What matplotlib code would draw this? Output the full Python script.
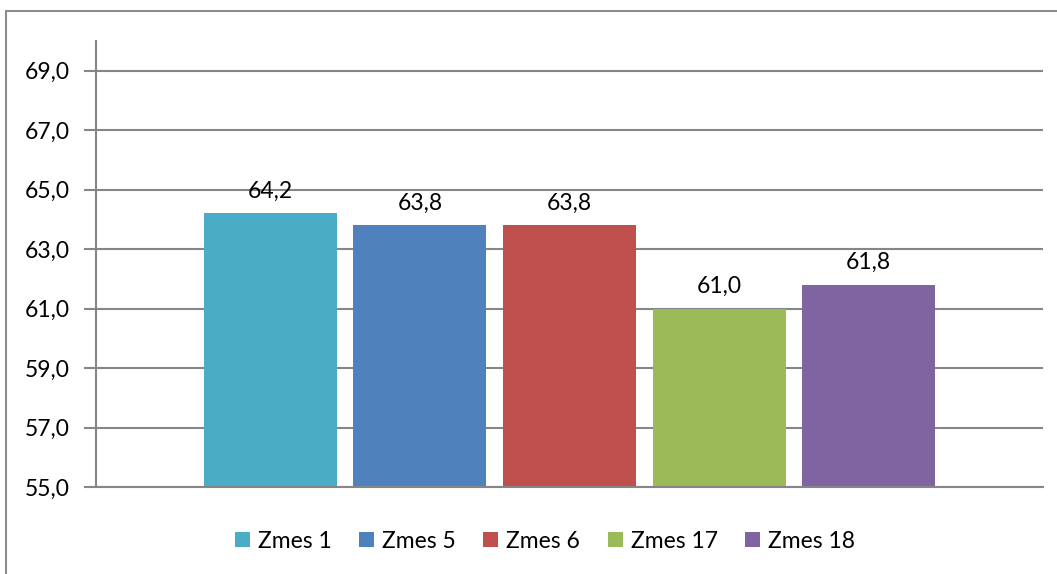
import matplotlib.pyplot as plt
from matplotlib.patches import Rectangle
from matplotlib.ticker import FuncFormatter

plt.rcParams['font.family'] = ['Lato', 'DejaVu Sans']

series = ['Zmes 1', 'Zmes 5', 'Zmes 6', 'Zmes 17', 'Zmes 18']
values = [64.2, 63.8, 63.8, 61.0, 61.8]
colors = ['#4BACC6', '#4F81BD', '#C0504D', '#9BBB59', '#8064A2']
yticks = [55, 57, 59, 61, 63, 65, 67, 69]

fig = plt.figure(figsize=(10.57, 5.74), dpi=100)
fig.patches.append(Rectangle((6 / 1057, -0.1), 1.2, 1 - 11 / 574 + 0.1,
                             transform=fig.transFigure, fill=False,
                             edgecolor='#8c8c8c', linewidth=1.5))

ax = fig.add_axes([96 / 1057, 1 - 487 / 574, (1043 - 96) / 1057, (487 - 41) / 574])

width = 0.1404
step = 0.158
n = len(series)
for i, (name, v, c) in enumerate(zip(series, values, colors)):
    x = (i - (n - 1) / 2) * step
    ax.bar(x, v - 55, bottom=55, width=width, color=c, label=name, zorder=2)
    ax.text(x, v + 0.4, f'{v:.1f}'.replace('.', ','), ha='center', va='bottom',
            fontsize=16.5, zorder=3)

ax.set_xlim(-0.5, 0.5)
ax.set_ylim(55, 70)
ax.set_yticks(yticks)
ax.yaxis.set_major_formatter(FuncFormatter(lambda v, p: f'{v:.1f}'.replace('.', ',')))
ax.set_xticks([])
ax.grid(axis='y', color='#868686', linewidth=1.5, zorder=0)
ax.tick_params(axis='y', length=9, width=1.5, color='#868686', labelsize=16.5, pad=10)
for s in ['top', 'right']:
    ax.spines[s].set_visible(False)
for s in ['left', 'bottom']:
    ax.spines[s].set_color('#868686')
    ax.spines[s].set_linewidth(1.5)

fig.legend(loc='center', bbox_to_anchor=(545 / 1057, 1 - 541 / 574), ncol=5,
           frameon=False, fontsize=16.5, handlelength=0.65, handleheight=0.65,
           handletextpad=0.35, columnspacing=1.2)

fig.savefig('out.png', dpi=100)
